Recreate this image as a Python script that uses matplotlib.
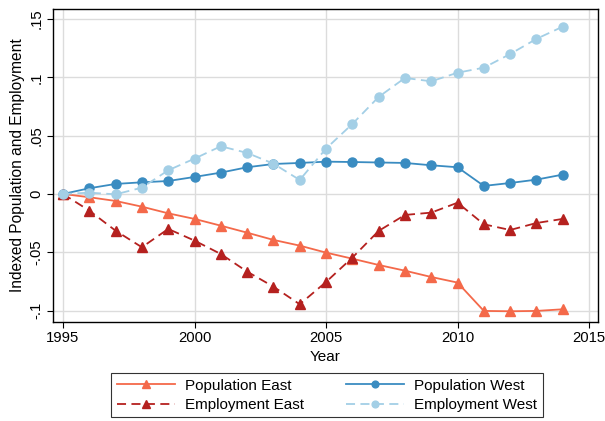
import matplotlib
matplotlib.use("Agg")
import matplotlib.pyplot as plt
import numpy as np

plt.rcParams['font.family'] = ['Liberation Sans', 'DejaVu Sans']

years = np.arange(1995, 2015)

pop_east = [0, -0.0028, -0.006, -0.0109, -0.0166, -0.0214, -0.0272, -0.0332, -0.0394, -0.0443,
            -0.0503, -0.0555, -0.0609, -0.0658, -0.0712, -0.076, -0.1003, -0.1006, -0.1003, -0.0989]
emp_east = [0, -0.0143, -0.0315, -0.0457, -0.030, -0.040, -0.0515, -0.0666, -0.0795, -0.0946,
            -0.0755, -0.0546, -0.0317, -0.018, -0.016, -0.0075, -0.026, -0.0309, -0.0249, -0.0214]
pop_west = [0, 0.0049, 0.0086, 0.010, 0.0111, 0.0146, 0.0183, 0.0229, 0.0257, 0.0266,
            0.0277, 0.0274, 0.027, 0.0266, 0.0246, 0.0229, 0.0069, 0.0094, 0.0123, 0.0166]
emp_west = [0, 0.0011, -0.0003, 0.0054, 0.0203, 0.0303, 0.0409, 0.0352, 0.026, 0.012,
            0.0389, 0.060, 0.0832, 0.0995, 0.0966, 0.104, 0.1083, 0.12, 0.133, 0.1435]

yticks = [-0.1, -0.05, 0, 0.05, 0.1, 0.15]
ytick_labels = ["-.1", "-.05", "0", ".05", ".1", ".15"]
xticks = [1995, 2000, 2005, 2010, 2015]

c_pe = "#f4694a"
c_ee = "#b5211f"
c_pw = "#3a8cc1"
c_ew = "#a3cfe6"

fig = plt.figure(figsize=(6.05, 4.21), dpi=100)
ax = fig.add_axes([0.0876, 0.236, 0.9004, 0.742])

ax.plot(years, pop_east, color=c_pe, marker="^", ms=7, lw=1.3, label="Population East")
ax.plot(years, pop_west, color=c_pw, marker="o", ms=6.5, lw=1.3, label="Population West")
ax.plot(years, emp_east, color=c_ee, marker="^", ms=7, lw=1.3, ls=(0, (5, 3)), label="Employment East")
ax.plot(years, emp_west, color=c_ew, marker="o", ms=6.5, lw=1.3, ls=(0, (5, 3)), label="Employment West")

ax.set_xlim(1994.62, 2015.33)
ax.set_ylim(-0.1095, 0.1584)
ax.set_xticks(xticks)
ax.set_yticks(yticks)
ax.set_yticklabels(ytick_labels, rotation=90, va="center")
ax.tick_params(labelsize=10.7, direction="out", length=4, width=0.8, colors="black", pad=3)
ax.grid(True, color="#dcdcdc", lw=1)
ax.set_axisbelow(True)
for s in ax.spines.values():
    s.set_color("black")
    s.set_linewidth(1)

ax.set_xlabel("Year", fontsize=11, labelpad=3)
ax.set_ylabel("Indexed Population and Employment", fontsize=11.2, labelpad=3)

handles, labels = ax.get_legend_handles_labels()
order = [0, 2, 1, 3]
leg = ax.legend([handles[i] for i in order], [labels[i] for i in order], ncol=2,
                loc="upper center", bbox_to_anchor=(0.503, -0.141), fontsize=11,
                frameon=True, fancybox=False, edgecolor="black", borderpad=0.35,
                handlelength=3.8, handletextpad=0.7, columnspacing=2.7,
                labelspacing=0.35, markerscale=0.75)
leg.get_frame().set_linewidth(0.8)

fig.savefig("out.png", dpi=100)
